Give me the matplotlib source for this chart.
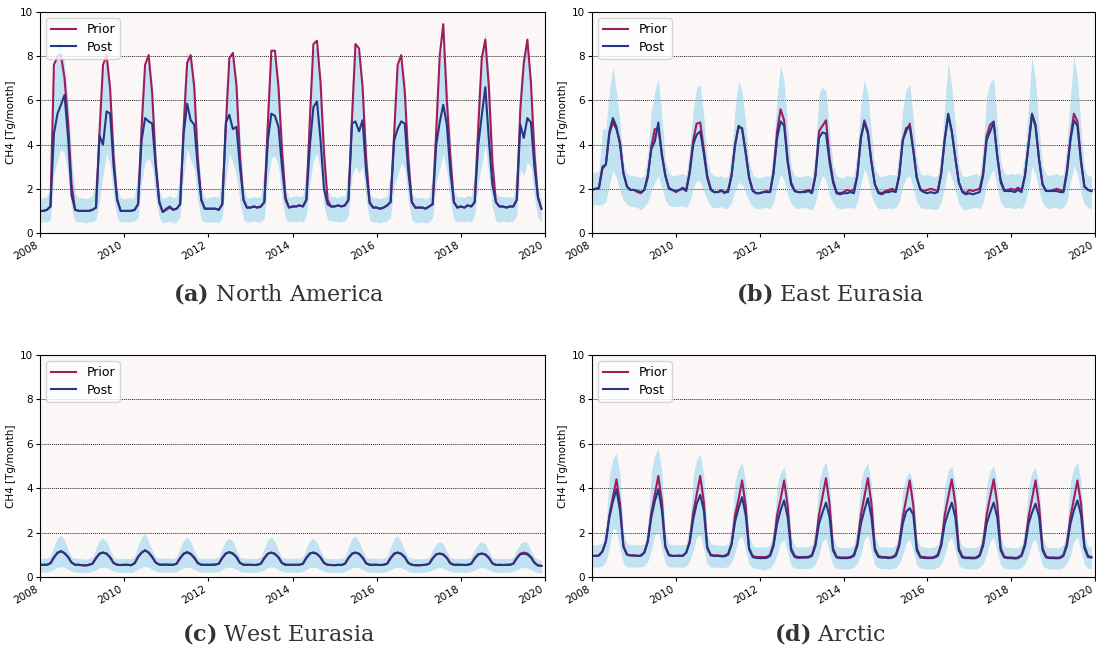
import numpy as np
import pandas as pd
import matplotlib
matplotlib.use('Agg')
import matplotlib.pyplot as plt
import matplotlib.dates as mdates

# ================= 数据 (每行 = 一年, Jan..Dec) =================
dates = pd.date_range('2008-01-01', periods=144, freq='MS')

na_prior = [
    [1.0, 1.0, 1.05, 1.2, 7.6, 8.0, 8.05, 7.0, 5.0, 2.2, 1.05, 1.0],
    [1.0, 1.0, 1.0, 1.05, 1.15, 4.6, 7.6, 8.05, 6.5, 3.4, 1.5, 1.0],
    [1.0, 1.0, 1.0, 1.05, 1.3, 4.8, 7.6, 8.05, 6.3, 3.2, 1.4, 0.95],
    [1.05, 1.15, 1.05, 1.1, 1.3, 4.8, 7.7, 8.05, 6.6, 3.4, 1.5, 1.1],
    [1.1, 1.1, 1.1, 1.05, 1.3, 4.8, 7.9, 8.15, 6.7, 3.5, 1.5, 1.15],
    [1.15, 1.2, 1.15, 1.2, 1.4, 5.0, 8.25, 8.25, 6.6, 3.8, 1.6, 1.15],
    [1.2, 1.2, 1.25, 1.2, 1.5, 5.2, 8.55, 8.7, 6.8, 3.6, 1.5, 1.2],
    [1.2, 1.25, 1.2, 1.25, 1.5, 5.2, 8.55, 8.35, 6.6, 3.4, 1.4, 1.15],
    [1.15, 1.1, 1.15, 1.25, 1.4, 4.5, 7.6, 8.05, 6.4, 3.4, 1.4, 1.15],
    [1.15, 1.15, 1.1, 1.2, 1.3, 4.6, 8.0, 9.45, 6.0, 3.5, 1.4, 1.15],
    [1.2, 1.15, 1.25, 1.2, 1.4, 4.8, 7.9, 8.75, 6.6, 3.2, 1.4, 1.2],
    [1.2, 1.15, 1.2, 1.2, 1.5, 5.6, 7.7, 8.75, 6.8, 3.6, 1.6, 1.1],
]
na_post = [
    [1.0, 1.0, 1.05, 1.2, 4.5, 5.4, 5.8, 6.25, 4.3, 1.7, 1.05, 1.0],
    [1.0, 1.0, 1.0, 1.05, 1.15, 4.4, 4.0, 5.5, 5.4, 3.0, 1.5, 1.0],
    [1.0, 1.0, 1.0, 1.05, 1.3, 4.2, 5.2, 5.05, 4.95, 3.0, 1.4, 0.95],
    [1.1, 1.2, 1.05, 1.1, 1.3, 4.5, 5.85, 5.1, 4.9, 3.0, 1.5, 1.1],
    [1.1, 1.1, 1.1, 1.05, 1.3, 5.0, 5.35, 4.7, 4.8, 3.0, 1.5, 1.15],
    [1.15, 1.2, 1.15, 1.2, 1.4, 4.2, 5.4, 5.3, 4.8, 3.0, 1.5, 1.15],
    [1.2, 1.2, 1.25, 1.2, 1.5, 4.0, 5.7, 5.95, 4.2, 2.0, 1.3, 1.2],
    [1.2, 1.25, 1.2, 1.25, 1.5, 4.95, 5.05, 4.6, 5.1, 2.8, 1.35, 1.15],
    [1.15, 1.1, 1.15, 1.25, 1.4, 4.2, 4.7, 5.05, 4.95, 2.8, 1.4, 1.15],
    [1.15, 1.15, 1.1, 1.2, 1.3, 4.0, 5.0, 5.8, 4.9, 2.8, 1.4, 1.15],
    [1.2, 1.15, 1.25, 1.2, 1.4, 4.0, 5.3, 6.6, 4.2, 2.2, 1.4, 1.2],
    [1.2, 1.15, 1.2, 1.2, 1.5, 4.9, 4.3, 5.2, 5.0, 3.0, 1.6, 1.1],
]
na_hi = [
    [1.6, 1.6, 1.65, 2.0, 7.0, 8.5, 8.7, 7.6, 6.0, 3.5, 1.8, 1.6],
    [1.6, 1.55, 1.6, 1.7, 2.6, 6.0, 7.3, 8.0, 6.8, 4.3, 2.0, 1.6],
    [1.55, 1.6, 1.55, 1.65, 2.8, 6.0, 7.4, 7.8, 6.8, 4.0, 1.9, 1.55],
    [1.6, 1.7, 1.6, 1.65, 2.8, 6.5, 8.2, 7.8, 6.8, 4.2, 2.0, 1.6],
    [1.6, 1.65, 1.65, 1.6, 2.8, 6.5, 7.8, 7.9, 7.0, 4.6, 2.1, 1.6],
    [1.6, 1.65, 1.6, 1.65, 2.9, 6.5, 8.0, 8.0, 7.0, 4.6, 2.0, 1.6],
    [1.65, 1.7, 1.65, 1.7, 3.0, 6.8, 8.3, 8.4, 7.2, 4.5, 1.9, 1.65],
    [1.65, 1.6, 1.7, 1.65, 3.0, 6.8, 8.4, 8.0, 6.9, 4.3, 1.8, 1.6],
    [1.6, 1.55, 1.6, 1.7, 2.8, 6.0, 7.6, 7.8, 6.9, 4.2, 1.8, 1.6],
    [1.6, 1.6, 1.55, 1.65, 2.7, 6.2, 7.9, 8.4, 7.0, 4.4, 1.9, 1.6],
    [1.65, 1.6, 1.7, 1.65, 2.9, 6.4, 8.0, 9.2, 7.2, 4.2, 1.8, 1.65],
    [1.65, 1.6, 1.65, 1.6, 3.0, 7.0, 8.2, 8.3, 7.0, 4.4, 2.0, 1.5],
]
na_lo = [
    [0.5, 0.5, 0.5, 0.6, 2.7, 3.3, 3.8, 3.6, 2.6, 1.1, 0.55, 0.5],
    [0.5, 0.45, 0.5, 0.5, 0.6, 1.5, 2.6, 3.6, 3.1, 1.6, 0.7, 0.5],
    [0.5, 0.5, 0.5, 0.55, 0.7, 2.3, 3.2, 3.4, 3.0, 1.6, 0.7, 0.45],
    [0.5, 0.55, 0.45, 0.5, 0.7, 2.6, 3.8, 3.3, 2.9, 1.5, 0.6, 0.5],
    [0.5, 0.5, 0.5, 0.45, 0.7, 2.4, 3.6, 3.2, 2.6, 1.4, 0.6, 0.5],
    [0.5, 0.55, 0.5, 0.5, 0.7, 2.4, 3.4, 3.5, 3.0, 1.6, 0.65, 0.5],
    [0.55, 0.5, 0.55, 0.5, 0.8, 2.3, 3.3, 3.6, 2.8, 1.2, 0.6, 0.55],
    [0.55, 0.5, 0.5, 0.55, 0.8, 2.6, 3.0, 2.7, 3.0, 1.5, 0.6, 0.5],
    [0.5, 0.45, 0.5, 0.55, 0.7, 2.2, 2.6, 3.2, 2.9, 1.5, 0.6, 0.45],
    [0.5, 0.5, 0.45, 0.5, 0.7, 2.3, 2.9, 3.6, 2.8, 1.5, 0.6, 0.5],
    [0.55, 0.5, 0.55, 0.5, 0.8, 2.3, 3.1, 4.0, 2.6, 1.2, 0.55, 0.5],
    [0.55, 0.5, 0.5, 0.55, 0.8, 2.9, 2.6, 3.2, 3.0, 1.6, 0.7, 0.5],
]

ee_prior = [
    [1.95, 2.0, 2.0, 2.9, 3.1, 4.5, 5.0, 4.7, 4.1, 2.7, 2.1, 1.95],
    [1.95, 1.85, 1.8, 1.95, 2.5, 3.9, 4.7, 4.7, 3.6, 2.6, 2.05, 1.95],
    [1.85, 1.95, 2.05, 1.95, 2.8, 4.2, 4.95, 5.0, 3.8, 2.6, 2.0, 1.85],
    [1.85, 1.95, 1.8, 1.95, 2.6, 4.0, 4.8, 4.75, 3.7, 2.5, 1.95, 1.8],
    [1.8, 1.85, 1.9, 1.85, 2.8, 4.6, 5.6, 5.1, 3.3, 2.3, 1.9, 1.85],
    [1.85, 1.9, 1.95, 1.85, 2.6, 4.6, 4.85, 5.1, 3.4, 2.4, 1.85, 1.8],
    [1.85, 1.95, 1.9, 1.95, 2.6, 4.3, 5.1, 4.6, 3.2, 2.2, 1.85, 1.8],
    [1.9, 1.95, 2.0, 1.9, 2.6, 4.2, 4.6, 4.95, 3.8, 2.5, 2.0, 1.9],
    [1.95, 2.0, 1.95, 1.9, 2.7, 4.2, 5.3, 4.6, 3.4, 2.3, 1.9, 1.8],
    [1.95, 1.9, 1.95, 2.0, 2.7, 4.4, 4.9, 5.05, 3.5, 2.4, 1.95, 1.95],
    [2.0, 1.95, 2.05, 1.95, 2.6, 4.0, 5.4, 4.9, 3.3, 2.2, 1.9, 1.9],
    [1.95, 2.0, 1.95, 1.9, 2.8, 4.3, 5.4, 5.05, 3.3, 2.1, 1.95, 1.9],
]
ee_post = [
    [1.95, 2.0, 2.05, 3.0, 3.1, 4.6, 5.2, 4.8, 4.0, 2.7, 2.1, 1.95],
    [1.95, 1.9, 1.85, 1.95, 2.6, 3.8, 4.15, 5.0, 3.5, 2.6, 2.0, 1.95],
    [1.9, 1.95, 2.0, 1.9, 2.7, 4.0, 4.45, 4.6, 3.6, 2.5, 1.95, 1.85],
    [1.85, 1.9, 1.85, 1.85, 2.6, 4.0, 4.85, 4.7, 3.6, 2.5, 1.9, 1.8],
    [1.8, 1.85, 1.85, 1.85, 2.7, 4.3, 5.05, 4.85, 3.2, 2.2, 1.9, 1.85],
    [1.85, 1.85, 1.9, 1.8, 2.6, 4.3, 4.55, 4.5, 3.2, 2.3, 1.8, 1.75],
    [1.8, 1.8, 1.85, 1.8, 2.6, 4.3, 5.0, 4.5, 3.2, 2.2, 1.8, 1.75],
    [1.85, 1.85, 1.9, 1.85, 2.6, 4.2, 4.75, 4.8, 3.7, 2.5, 1.95, 1.85],
    [1.8, 1.85, 1.8, 1.85, 2.7, 4.3, 5.4, 4.6, 3.4, 2.3, 1.85, 1.75],
    [1.8, 1.75, 1.8, 1.85, 2.6, 4.2, 4.6, 5.0, 3.5, 2.3, 1.9, 1.9],
    [1.9, 1.85, 1.95, 1.85, 2.6, 4.0, 5.35, 4.8, 3.3, 2.2, 1.9, 1.9],
    [1.9, 1.9, 1.85, 1.85, 2.7, 4.2, 5.1, 4.85, 3.2, 2.1, 1.95, 1.9],
]
ee_hi = [
    [2.7, 2.75, 2.8, 4.7, 4.7, 6.5, 7.5, 6.4, 5.0, 3.2, 2.7, 2.6],
    [2.6, 2.55, 2.5, 2.6, 3.6, 5.5, 6.4, 7.0, 5.3, 3.3, 2.7, 2.6],
    [2.6, 2.65, 2.7, 2.6, 3.8, 5.6, 6.6, 6.7, 5.3, 3.3, 2.7, 2.6],
    [2.55, 2.6, 2.5, 2.6, 3.6, 5.6, 6.9, 6.4, 5.0, 3.2, 2.65, 2.5],
    [2.5, 2.55, 2.6, 2.55, 3.8, 6.2, 7.6, 6.9, 4.8, 3.0, 2.6, 2.55],
    [2.55, 2.6, 2.6, 2.5, 3.7, 6.3, 6.6, 6.4, 4.6, 3.1, 2.6, 2.5],
    [2.5, 2.6, 2.55, 2.6, 3.7, 5.9, 6.95, 6.3, 4.5, 2.9, 2.6, 2.55],
    [2.6, 2.65, 2.65, 2.6, 3.7, 5.6, 6.5, 6.7, 5.2, 3.3, 2.7, 2.6],
    [2.65, 2.6, 2.55, 2.6, 3.7, 5.8, 7.7, 6.6, 4.9, 3.1, 2.6, 2.55],
    [2.6, 2.65, 2.7, 2.6, 3.9, 6.2, 6.8, 7.0, 5.0, 3.2, 2.7, 2.65],
    [2.7, 2.65, 2.7, 2.6, 3.6, 5.8, 8.0, 6.9, 4.7, 3.0, 2.65, 2.6],
    [2.65, 2.7, 2.6, 2.65, 4.0, 6.2, 8.0, 7.0, 4.7, 2.9, 2.6, 2.55],
]
ee_lo = [
    [1.25, 1.3, 1.25, 1.3, 1.4, 2.2, 2.85, 2.5, 1.9, 1.5, 1.3, 1.2],
    [1.2, 1.15, 1.05, 1.2, 1.4, 1.9, 2.3, 2.6, 2.0, 1.5, 1.25, 1.2],
    [1.2, 1.2, 1.25, 1.15, 1.4, 2.0, 2.4, 2.3, 1.9, 1.5, 1.2, 1.15],
    [1.15, 1.2, 1.1, 1.15, 1.4, 1.9, 2.3, 2.2, 1.8, 1.45, 1.2, 1.1],
    [1.1, 1.15, 1.15, 1.1, 1.4, 2.1, 2.65, 2.4, 1.7, 1.35, 1.15, 1.1],
    [1.15, 1.15, 1.1, 1.05, 1.35, 2.1, 2.6, 2.4, 1.7, 1.35, 1.15, 1.1],
    [1.1, 1.15, 1.15, 1.1, 1.4, 2.2, 2.9, 2.5, 1.7, 1.3, 1.1, 1.1],
    [1.1, 1.15, 1.1, 1.15, 1.4, 2.1, 2.5, 2.6, 2.0, 1.4, 1.15, 1.1],
    [1.1, 1.1, 1.05, 1.1, 1.4, 2.1, 2.9, 2.5, 1.9, 1.35, 1.1, 1.05],
    [1.1, 1.15, 1.15, 1.1, 1.4, 2.2, 2.6, 2.9, 2.0, 1.4, 1.15, 1.15],
    [1.15, 1.1, 1.15, 1.1, 1.35, 2.0, 3.0, 2.7, 1.9, 1.35, 1.15, 1.1],
    [1.15, 1.15, 1.1, 1.15, 1.4, 2.3, 3.0, 2.7, 1.8, 1.3, 1.15, 1.1],
]

we_prior = [
    [0.55, 0.55, 0.55, 0.62, 0.88, 1.08, 1.15, 1.08, 0.9, 0.65, 0.55, 0.55],
    [0.53, 0.52, 0.55, 0.6, 0.85, 1.05, 1.1, 1.05, 0.88, 0.63, 0.55, 0.54],
    [0.55, 0.55, 0.53, 0.62, 0.9, 1.1, 1.2, 1.1, 0.9, 0.65, 0.56, 0.55],
    [0.56, 0.55, 0.55, 0.6, 0.85, 1.05, 1.13, 1.05, 0.88, 0.63, 0.55, 0.55],
    [0.55, 0.55, 0.56, 0.6, 0.86, 1.06, 1.12, 1.06, 0.9, 0.64, 0.55, 0.55],
    [0.55, 0.54, 0.55, 0.6, 0.85, 1.05, 1.1, 1.04, 0.88, 0.63, 0.55, 0.55],
    [0.55, 0.55, 0.55, 0.6, 0.86, 1.06, 1.1, 1.04, 0.88, 0.63, 0.55, 0.54],
    [0.53, 0.55, 0.54, 0.6, 0.85, 1.05, 1.1, 1.05, 0.88, 0.62, 0.55, 0.55],
    [0.55, 0.54, 0.55, 0.6, 0.85, 1.05, 1.1, 1.05, 0.9, 0.64, 0.55, 0.53],
    [0.53, 0.54, 0.55, 0.6, 0.84, 1.02, 1.06, 1.02, 0.86, 0.62, 0.55, 0.55],
    [0.55, 0.54, 0.55, 0.6, 0.84, 1.02, 1.06, 1.02, 0.86, 0.62, 0.54, 0.55],
    [0.54, 0.55, 0.55, 0.6, 0.85, 1.05, 1.1, 1.06, 0.9, 0.65, 0.52, 0.5],
]
we_post = [
    [0.55, 0.55, 0.55, 0.62, 0.88, 1.1, 1.17, 1.07, 0.9, 0.65, 0.55, 0.55],
    [0.53, 0.52, 0.55, 0.6, 0.85, 1.05, 1.1, 1.05, 0.88, 0.63, 0.55, 0.54],
    [0.55, 0.55, 0.53, 0.62, 0.9, 1.1, 1.2, 1.1, 0.9, 0.65, 0.56, 0.55],
    [0.56, 0.55, 0.55, 0.6, 0.85, 1.05, 1.1, 1.03, 0.86, 0.63, 0.55, 0.55],
    [0.55, 0.55, 0.56, 0.6, 0.86, 1.06, 1.12, 1.05, 0.9, 0.64, 0.55, 0.55],
    [0.55, 0.54, 0.55, 0.6, 0.85, 1.05, 1.1, 1.04, 0.88, 0.63, 0.55, 0.55],
    [0.55, 0.55, 0.55, 0.6, 0.86, 1.06, 1.1, 1.04, 0.88, 0.63, 0.55, 0.54],
    [0.53, 0.55, 0.54, 0.6, 0.85, 1.05, 1.1, 1.04, 0.87, 0.62, 0.55, 0.55],
    [0.55, 0.54, 0.55, 0.6, 0.85, 1.05, 1.1, 1.04, 0.88, 0.63, 0.55, 0.53],
    [0.53, 0.54, 0.55, 0.6, 0.84, 1.02, 1.05, 1.01, 0.86, 0.62, 0.55, 0.55],
    [0.55, 0.54, 0.55, 0.6, 0.84, 1.02, 1.05, 1.01, 0.86, 0.62, 0.54, 0.55],
    [0.54, 0.55, 0.55, 0.6, 0.85, 1.03, 1.05, 1.02, 0.88, 0.64, 0.52, 0.5],
]
we_hi = [
    [0.85, 0.86, 0.85, 0.95, 1.4, 1.75, 1.88, 1.65, 1.25, 0.9, 0.85, 0.84],
    [0.82, 0.8, 0.84, 0.92, 1.3, 1.65, 1.75, 1.6, 1.2, 0.88, 0.84, 0.83],
    [0.85, 0.84, 0.82, 0.95, 1.4, 1.8, 1.95, 1.6, 1.2, 0.9, 0.86, 0.85],
    [0.86, 0.84, 0.84, 0.92, 1.3, 1.65, 1.8, 1.6, 1.2, 0.88, 0.85, 0.84],
    [0.84, 0.85, 0.85, 0.92, 1.3, 1.65, 1.75, 1.6, 1.2, 0.9, 0.85, 0.84],
    [0.85, 0.83, 0.84, 0.92, 1.3, 1.7, 1.8, 1.6, 1.2, 0.88, 0.85, 0.84],
    [0.85, 0.85, 0.84, 0.92, 1.3, 1.65, 1.75, 1.55, 1.2, 0.88, 0.84, 0.83],
    [0.82, 0.84, 0.84, 0.92, 1.35, 1.75, 1.85, 1.6, 1.2, 0.88, 0.85, 0.85],
    [0.85, 0.84, 0.85, 0.92, 1.35, 1.75, 1.85, 1.6, 1.2, 0.9, 0.85, 0.82],
    [0.82, 0.83, 0.84, 0.9, 1.25, 1.5, 1.6, 1.5, 1.15, 0.87, 0.84, 0.84],
    [0.84, 0.83, 0.84, 0.9, 1.25, 1.5, 1.6, 1.5, 1.15, 0.87, 0.83, 0.84],
    [0.83, 0.84, 0.84, 0.9, 1.25, 1.5, 1.6, 1.55, 1.2, 0.9, 0.8, 0.75],
]
we_lo = [
    [0.22, 0.23, 0.22, 0.26, 0.35, 0.44, 0.47, 0.43, 0.34, 0.26, 0.22, 0.22],
    [0.2, 0.19, 0.22, 0.25, 0.33, 0.42, 0.45, 0.42, 0.33, 0.25, 0.22, 0.21],
    [0.22, 0.22, 0.2, 0.26, 0.35, 0.45, 0.48, 0.44, 0.34, 0.26, 0.23, 0.22],
    [0.23, 0.22, 0.22, 0.25, 0.33, 0.42, 0.45, 0.42, 0.33, 0.25, 0.22, 0.22],
    [0.22, 0.22, 0.23, 0.25, 0.34, 0.43, 0.45, 0.42, 0.34, 0.25, 0.22, 0.22],
    [0.22, 0.21, 0.22, 0.25, 0.33, 0.42, 0.45, 0.42, 0.33, 0.25, 0.22, 0.22],
    [0.22, 0.22, 0.22, 0.25, 0.34, 0.43, 0.45, 0.42, 0.33, 0.25, 0.22, 0.21],
    [0.2, 0.22, 0.21, 0.25, 0.33, 0.42, 0.45, 0.42, 0.33, 0.25, 0.22, 0.22],
    [0.22, 0.21, 0.22, 0.25, 0.33, 0.42, 0.45, 0.42, 0.34, 0.25, 0.22, 0.2],
    [0.2, 0.21, 0.22, 0.25, 0.32, 0.4, 0.43, 0.4, 0.32, 0.24, 0.22, 0.22],
    [0.22, 0.21, 0.22, 0.25, 0.32, 0.4, 0.43, 0.4, 0.32, 0.24, 0.21, 0.22],
    [0.21, 0.22, 0.22, 0.25, 0.33, 0.41, 0.43, 0.41, 0.33, 0.25, 0.2, 0.18],
]

ar_prior = [
    [0.95, 0.95, 0.97, 1.15, 1.6, 2.8, 3.6, 4.4, 3.3, 1.4, 1.02, 0.97],
    [0.97, 0.95, 0.96, 1.1, 1.6, 2.9, 3.7, 4.55, 3.4, 1.4, 1.0, 0.95],
    [0.95, 0.96, 0.95, 1.1, 1.6, 2.9, 3.7, 4.55, 3.4, 1.35, 1.0, 0.97],
    [0.98, 0.95, 0.96, 1.05, 1.5, 2.8, 3.5, 4.35, 3.2, 1.3, 0.95, 0.9],
    [0.9, 0.9, 0.9, 1.0, 1.5, 2.8, 3.5, 4.35, 3.2, 1.3, 0.95, 0.9],
    [0.9, 0.9, 0.91, 1.0, 1.5, 2.8, 3.6, 4.45, 3.3, 1.3, 0.92, 0.88],
    [0.88, 0.88, 0.9, 1.0, 1.5, 2.8, 3.6, 4.45, 3.3, 1.3, 0.95, 0.9],
    [0.9, 0.88, 0.9, 1.0, 1.5, 2.7, 3.5, 4.35, 3.2, 1.3, 0.92, 0.9],
    [0.88, 0.88, 0.9, 1.0, 1.5, 2.8, 3.6, 4.4, 3.3, 1.3, 0.92, 0.88],
    [0.88, 0.87, 0.88, 1.0, 1.5, 2.8, 3.6, 4.4, 3.3, 1.3, 0.92, 0.88],
    [0.88, 0.86, 0.88, 1.0, 1.5, 2.7, 3.5, 4.35, 3.2, 1.3, 0.92, 0.88],
    [0.88, 0.87, 0.88, 1.0, 1.5, 2.7, 3.5, 4.35, 3.3, 1.4, 0.95, 0.9],
]
ar_post = [
    [0.95, 0.95, 0.97, 1.15, 1.6, 2.7, 3.4, 3.95, 3.0, 1.35, 1.0, 0.97],
    [0.97, 0.95, 0.96, 1.1, 1.6, 2.7, 3.4, 3.95, 3.0, 1.35, 0.98, 0.95],
    [0.95, 0.96, 0.95, 1.1, 1.55, 2.6, 3.3, 3.7, 3.0, 1.3, 0.97, 0.95],
    [0.95, 0.93, 0.93, 1.0, 1.45, 2.5, 3.1, 3.6, 2.8, 1.25, 0.9, 0.86],
    [0.85, 0.85, 0.86, 0.95, 1.4, 2.4, 3.0, 3.45, 2.7, 1.2, 0.9, 0.86],
    [0.87, 0.87, 0.88, 0.95, 1.4, 2.4, 2.9, 3.35, 2.7, 1.2, 0.88, 0.85],
    [0.85, 0.85, 0.87, 0.95, 1.4, 2.4, 3.0, 3.55, 2.7, 1.2, 0.9, 0.87],
    [0.87, 0.85, 0.87, 0.95, 1.4, 2.4, 2.95, 3.1, 2.8, 1.2, 0.88, 0.86],
    [0.85, 0.85, 0.87, 0.95, 1.4, 2.4, 2.9, 3.35, 2.7, 1.2, 0.88, 0.85],
    [0.85, 0.84, 0.85, 0.95, 1.4, 2.4, 2.9, 3.35, 2.7, 1.2, 0.88, 0.85],
    [0.85, 0.83, 0.85, 0.95, 1.4, 2.4, 2.9, 3.3, 2.7, 1.2, 0.88, 0.85],
    [0.85, 0.84, 0.85, 0.95, 1.4, 2.4, 3.0, 3.45, 2.8, 1.3, 0.9, 0.88],
]
ar_hi = [
    [1.45, 1.45, 1.47, 1.55, 2.3, 4.6, 5.3, 5.6, 4.6, 2.0, 1.5, 1.45],
    [1.45, 1.45, 1.45, 1.5, 2.3, 4.7, 5.5, 5.8, 4.7, 2.0, 1.5, 1.45],
    [1.45, 1.46, 1.45, 1.5, 2.3, 4.6, 5.3, 5.55, 4.6, 1.9, 1.5, 1.45],
    [1.45, 1.42, 1.43, 1.5, 2.2, 4.3, 4.9, 5.15, 4.3, 1.9, 1.4, 1.35],
    [1.35, 1.35, 1.35, 1.45, 2.1, 4.1, 4.7, 4.95, 4.1, 1.8, 1.4, 1.35],
    [1.35, 1.35, 1.37, 1.45, 2.2, 4.3, 4.9, 5.2, 4.3, 1.8, 1.38, 1.33],
    [1.33, 1.33, 1.35, 1.45, 2.2, 4.3, 4.9, 5.15, 4.2, 1.8, 1.4, 1.35],
    [1.35, 1.33, 1.35, 1.45, 2.1, 3.9, 4.5, 4.75, 4.1, 1.8, 1.38, 1.35],
    [1.33, 1.33, 1.35, 1.45, 2.1, 4.1, 4.8, 5.0, 4.2, 1.8, 1.38, 1.33],
    [1.33, 1.32, 1.33, 1.45, 2.1, 4.1, 4.8, 5.0, 4.2, 1.8, 1.38, 1.33],
    [1.33, 1.3, 1.33, 1.45, 2.1, 4.1, 4.7, 4.95, 4.1, 1.8, 1.38, 1.33],
    [1.33, 1.32, 1.33, 1.45, 2.2, 4.3, 4.9, 5.2, 4.3, 1.9, 1.4, 1.35],
]
ar_lo = [
    [0.45, 0.45, 0.46, 0.5, 0.7, 1.3, 2.2, 2.1, 1.3, 0.6, 0.47, 0.45],
    [0.45, 0.44, 0.45, 0.5, 0.7, 1.2, 1.9, 2.1, 1.3, 0.6, 0.46, 0.45],
    [0.45, 0.45, 0.44, 0.5, 0.7, 1.2, 1.8, 1.9, 1.25, 0.58, 0.45, 0.44],
    [0.44, 0.43, 0.43, 0.48, 0.65, 1.1, 1.7, 1.85, 1.2, 0.55, 0.42, 0.38],
    [0.36, 0.3, 0.35, 0.42, 0.6, 1.0, 1.55, 1.7, 1.1, 0.5, 0.4, 0.38],
    [0.38, 0.38, 0.38, 0.43, 0.6, 1.0, 1.6, 1.75, 1.1, 0.5, 0.4, 0.37],
    [0.36, 0.36, 0.37, 0.43, 0.6, 1.05, 1.7, 1.9, 1.15, 0.52, 0.4, 0.38],
    [0.38, 0.36, 0.37, 0.43, 0.6, 1.0, 1.55, 1.7, 1.15, 0.52, 0.4, 0.38],
    [0.36, 0.36, 0.37, 0.43, 0.6, 1.0, 1.6, 1.8, 1.15, 0.52, 0.4, 0.37],
    [0.36, 0.35, 0.36, 0.43, 0.6, 1.0, 1.6, 1.8, 1.15, 0.52, 0.4, 0.37],
    [0.36, 0.34, 0.36, 0.43, 0.6, 1.0, 1.55, 1.7, 1.1, 0.5, 0.4, 0.37],
    [0.36, 0.35, 0.36, 0.43, 0.6, 1.0, 1.6, 1.8, 1.2, 0.55, 0.4, 0.38],
]

panels = [
    ('(a)', 'North America', na_prior, na_post, na_lo, na_hi),
    ('(b)', 'East Eurasia', ee_prior, ee_post, ee_lo, ee_hi),
    ('(c)', 'West Eurasia', we_prior, we_post, we_lo, we_hi),
    ('(d)', 'Arctic', ar_prior, ar_post, ar_lo, ar_hi),
]

# ================= 样式 =================
PRIOR_C = '#a01c5c'
POST_C = '#283583'
BAND_C = 'skyblue'
BG_C = '#fcf7f7'

plt.rcParams['mathtext.fontset'] = 'dejavuserif'

W, H = 1096, 650
fig = plt.figure(figsize=(W / 100, H / 100), dpi=100)

# 轴位置 (像素): left, top, right, bottom
boxes = [(40, 12, 545, 233), (592, 12, 1095, 233),
         (40, 355, 545, 577), (592, 355, 1095, 577)]
cap_pos = [(279, 293), (830, 293), (278, 634), (830, 634)]

for (tag, name, prior, post, lo, hi), (l, t, r, b), (cx, cy) in zip(panels, boxes, cap_pos):
    ax = fig.add_axes([l / W, 1 - b / H, (r - l) / W, (b - t) / H])
    ax.set_facecolor(BG_C)
    ax.fill_between(dates, np.ravel(lo), np.ravel(hi), color=BAND_C, alpha=0.5, lw=0)
    ax.plot(dates, np.ravel(prior), color=PRIOR_C, lw=1.5, label='Prior')
    ax.plot(dates, np.ravel(post), color=POST_C, lw=1.5, label='Post')
    for yv in [2, 4, 6, 8]:
        ax.axhline(yv, color='0.15', ls=(0, (1, 1)), lw=0.7, zorder=0.5)
    ax.set_ylim(0, 10)
    ax.set_xlim(pd.Timestamp('2008-01-01'), pd.Timestamp('2020-01-01'))
    ax.set_yticks([0, 2, 4, 6, 8, 10])
    ax.xaxis.set_major_locator(mdates.YearLocator(2))
    ax.xaxis.set_major_formatter(mdates.DateFormatter('%Y'))
    ax.tick_params(labelsize=7.5, length=3, pad=2)
    for lab in ax.get_xticklabels():
        lab.set_rotation(30)
        lab.set_ha('right')
    ax.set_ylabel('CH4 [Tg/month]', fontsize=7.5, labelpad=3)
    ax.legend(loc='upper left', fontsize=9, handlelength=2.0, borderpad=0.4, labelspacing=0.35)
    fig.text(cx / W, 1 - cy / H, r'$\mathbf{' + tag + '}$ ' + name,
             family='DejaVu Serif', fontsize=16, color='#333333',
             ha='center', va='center')

fig.savefig('out.png', dpi=100)
